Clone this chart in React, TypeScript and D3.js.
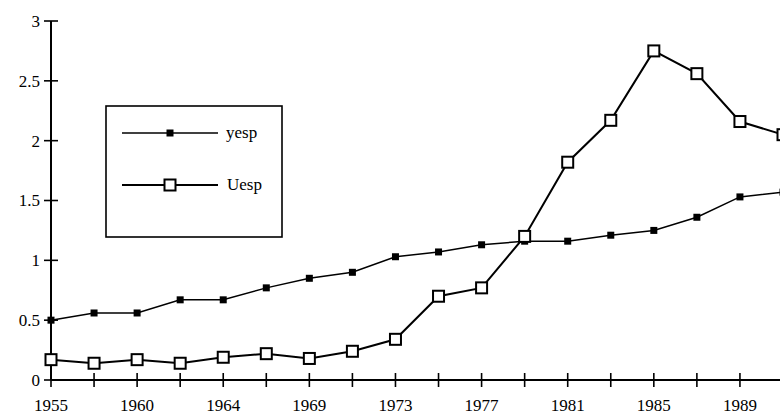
import * as d3 from 'd3';

// categories (every other one is labelled on the axis)
const years = [
  '1955', '1957', '1960', '1962', '1964', '1967', '1969', '1971', '1973',
  '1975', '1977', '1979', '1981', '1983', '1985', '1987', '1989', '1991',
];
const labelledYears = ['1955', '1960', '1964', '1969', '1973', '1977', '1981', '1985', '1989'];

const yesp = [
  0.5, 0.56, 0.56, 0.67, 0.67, 0.77, 0.85, 0.9, 1.03,
  1.07, 1.13, 1.16, 1.16, 1.21, 1.25, 1.36, 1.53, 1.57,
];
const uesp = [
  0.17, 0.14, 0.17, 0.14, 0.19, 0.22, 0.18, 0.24, 0.34,
  0.7, 0.77, 1.2, 1.82, 2.17, 2.75, 2.56, 2.16, 2.05,
];

const yTicks = [0, 0.5, 1, 1.5, 2, 2.5, 3];
const yTickLabels = ['0', '0.5', '1', '1.5', '2', '2.5', '3'];

const W = 780;
const H = 416;
const font = '"Liberation Serif", "Times New Roman", serif';

export default function App() {
  const x = d3.scalePoint<string>().domain(years).range([51, 783]);
  const y = d3.scaleLinear().domain([0, 3]).range([380, 21]);

  const line = d3
    .line<number>()
    .x((_, i) => x(years[i]) as number)
    .y((d) => y(d));

  const x0 = x(years[0]) as number;

  return (
    <svg
      width={W}
      height={H}
      style={{ position: 'absolute', left: 0, top: 0, background: '#fff', display: 'block' }}
      fontFamily={font}
    >
      {/* y axis */}
      <line x1={x0} x2={x0} y1={y(3)} y2={y(0)} stroke="#000" strokeWidth={2} />
      {yTicks.map((t, i) => (
        <g key={t}>
          <line x1={x0 - 7} x2={x0 + 7} y1={y(t)} y2={y(t)} stroke="#000" strokeWidth={1.6} />
          <text x={x0 - 11} y={y(t)} dy="0.35em" textAnchor="end" fontSize={17}>
            {yTickLabels[i]}
          </text>
        </g>
      ))}

      {/* x axis */}
      <line x1={x0} x2={W} y1={y(0)} y2={y(0)} stroke="#000" strokeWidth={2} />
      {years.map((yr) => (
        <line
          key={yr}
          x1={x(yr)}
          x2={x(yr)}
          y1={y(0) - 7}
          y2={y(0) + 7}
          stroke="#000"
          strokeWidth={1.6}
        />
      ))}
      {labelledYears.map((yr) => (
        <text key={yr} x={x(yr)} y={411} textAnchor="middle" fontSize={17}>
          {yr}
        </text>
      ))}

      {/* yesp */}
      <path d={line(yesp) ?? ''} fill="none" stroke="#000" strokeWidth={1.5} />
      {yesp.map((v, i) => (
        <rect key={i} x={(x(years[i]) as number) - 3.5} y={y(v) - 3.5} width={7} height={7} fill="#000" />
      ))}

      {/* Uesp */}
      <path d={line(uesp) ?? ''} fill="none" stroke="#000" strokeWidth={2} />
      {uesp.map((v, i) => (
        <rect
          key={i}
          x={(x(years[i]) as number) - 5.5}
          y={y(v) - 5.5}
          width={11}
          height={11}
          fill="#fff"
          stroke="#000"
          strokeWidth={2}
        />
      ))}

      {/* legend */}
      <g>
        <rect x={106} y={106} width={176} height={131} fill="#fff" stroke="#000" strokeWidth={1.6} />
        <line x1={122} x2={218} y1={133} y2={133} stroke="#000" strokeWidth={1.4} />
        <rect x={166.5} y={129.5} width={7} height={7} fill="#000" />
        <text x={226} y={133} dy="0.32em" fontSize={17}>yesp</text>
        <line x1={122} x2={218} y1={185} y2={185} stroke="#000" strokeWidth={2} />
        <rect x={164.5} y={179.5} width={11} height={11} fill="#fff" stroke="#000" strokeWidth={2} />
        <text x={227} y={185} dy="0.32em" fontSize={17}>Uesp</text>
      </g>
    </svg>
  );
}
